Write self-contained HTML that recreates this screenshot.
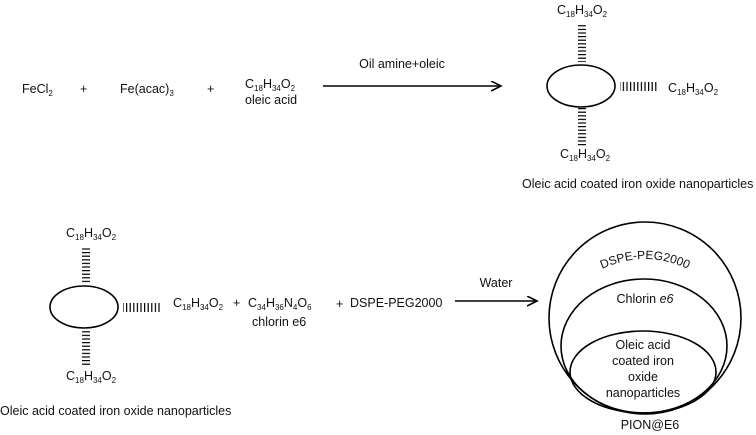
<!DOCTYPE html>
<html><head><meta charset="utf-8"><style>
body{margin:0;background:#fff}
svg{display:block}
text{font-family:"Liberation Sans",Arial,sans-serif;font-size:12.5px;fill:#111}
.s{font-size:8px}
</style></head><body>
<svg width="756" height="435" viewBox="0 0 756 435" xmlns="http://www.w3.org/2000/svg">
<defs>
<marker id="ah" markerWidth="12" markerHeight="12" refX="10" refY="5" orient="auto" markerUnits="userSpaceOnUse">
<path d="M0,0 L10,5 L0,10" fill="none" stroke="#000" stroke-width="1.6"/>
</marker>
<pattern id="hh" width="8" height="3.6" patternUnits="userSpaceOnUse"><rect width="8" height="1.2" fill="#000"/></pattern>
<pattern id="hv" width="3.6" height="10" patternUnits="userSpaceOnUse"><rect width="1.2" height="10" fill="#000"/></pattern>
</defs>

<text x="22" y="93">FeCl<tspan class="s" dy="3">2</tspan></text>
<text x="80" y="93">+</text>
<text x="120" y="93">Fe(acac)<tspan class="s" dy="3">3</tspan></text>
<text x="207" y="93">+</text>
<text x="245" y="88">C<tspan class="s" dy="3">18</tspan><tspan dy="-3">H</tspan><tspan class="s" dy="3">34</tspan><tspan dy="-3">O</tspan><tspan class="s" dy="3">2</tspan></text>
<text x="245" y="104">oleic acid</text>
<text x="402" y="68" text-anchor="middle">Oil amine+oleic</text>
<line x1="323" y1="86" x2="501" y2="86" stroke="#000" stroke-width="1.6" marker-end="url(#ah)"/>

<text x="557" y="14">C<tspan class="s" dy="3">18</tspan><tspan dy="-3">H</tspan><tspan class="s" dy="3">34</tspan><tspan dy="-3">O</tspan><tspan class="s" dy="3">2</tspan></text>
<rect x="578" y="24" width="8" height="38" fill="url(#hh)"/>
<ellipse cx="581" cy="86" rx="34" ry="21" fill="none" stroke="#000" stroke-width="1.6"/>
<rect x="578" y="108" width="8" height="38" fill="url(#hh)"/>
<text x="560" y="158">C<tspan class="s" dy="3">18</tspan><tspan dy="-3">H</tspan><tspan class="s" dy="3">34</tspan><tspan dy="-3">O</tspan><tspan class="s" dy="3">2</tspan></text>
<rect x="620" y="82" width="37" height="9" fill="url(#hv)"/>
<text x="668" y="92">C<tspan class="s" dy="3">18</tspan><tspan dy="-3">H</tspan><tspan class="s" dy="3">34</tspan><tspan dy="-3">O</tspan><tspan class="s" dy="3">2</tspan></text>
<text x="522" y="188">Oleic acid coated iron oxide nanoparticles</text>

<text x="66" y="237">C<tspan class="s" dy="3">18</tspan><tspan dy="-3">H</tspan><tspan class="s" dy="3">34</tspan><tspan dy="-3">O</tspan><tspan class="s" dy="3">2</tspan></text>
<rect x="82" y="247" width="8" height="36" fill="url(#hh)"/>
<ellipse cx="84" cy="307" rx="34" ry="21" fill="none" stroke="#000" stroke-width="1.6"/>
<rect x="82" y="330" width="8" height="36" fill="url(#hh)"/>
<text x="66" y="380">C<tspan class="s" dy="3">18</tspan><tspan dy="-3">H</tspan><tspan class="s" dy="3">34</tspan><tspan dy="-3">O</tspan><tspan class="s" dy="3">2</tspan></text>
<rect x="123" y="303" width="37" height="9" fill="url(#hv)"/>
<text x="173" y="307">C<tspan class="s" dy="3">18</tspan><tspan dy="-3">H</tspan><tspan class="s" dy="3">34</tspan><tspan dy="-3">O</tspan><tspan class="s" dy="3">2</tspan></text>
<text x="233" y="307">+</text>
<text x="248" y="307">C<tspan class="s" dy="3">34</tspan><tspan dy="-3">H</tspan><tspan class="s" dy="3">36</tspan><tspan dy="-3">N</tspan><tspan class="s" dy="3">4</tspan><tspan dy="-3">O</tspan><tspan class="s" dy="3">6</tspan></text>
<text x="252" y="326">chlorin e6</text>
<text x="336" y="308">+</text>
<text x="350" y="307">DSPE-PEG2000</text>
<text x="496" y="287" text-anchor="middle">Water</text>
<line x1="455" y1="301" x2="537" y2="301" stroke="#000" stroke-width="1.6" marker-end="url(#ah)"/>
<text x="0" y="415">Oleic acid coated iron oxide nanoparticles</text>

<circle cx="645" cy="318" r="96" fill="none" stroke="#000" stroke-width="1.6"/>
<ellipse cx="644" cy="346" rx="83" ry="67" fill="none" stroke="#000" stroke-width="1.6"/>
<ellipse cx="643" cy="372" rx="73" ry="41" fill="none" stroke="#000" stroke-width="1.6"/>
<path id="arc" d="M600,270 Q645,248 690,270" fill="none"/>
<text style="font-size:12px"><textPath href="#arc" startOffset="50%" text-anchor="middle">DSPE-PEG2000</textPath></text>
<text x="645" y="303" text-anchor="middle">Chlorin <tspan font-style="italic">e6</tspan></text>
<text x="643" y="349" text-anchor="middle">Oleic acid</text>
<text x="643" y="365" text-anchor="middle">coated iron</text>
<text x="643" y="381" text-anchor="middle">oxide</text>
<text x="643" y="397" text-anchor="middle">nanoparticles</text>
<text x="650" y="429" text-anchor="middle">PION@E6</text>
</svg>
</body></html>
